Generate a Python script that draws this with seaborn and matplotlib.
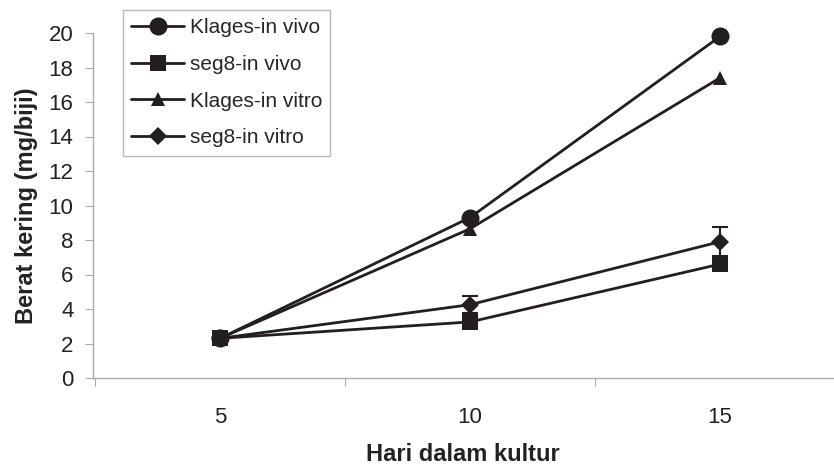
import matplotlib
matplotlib.use("Agg")
import matplotlib.pyplot as plt
import seaborn as sns
import pandas as pd
import numpy as np

days = ["5", "10", "15"]
klages_vivo = [2.3, 9.3, 19.8]
seg8_vivo = [2.3, 3.25, 6.6]
klages_vitro = [2.3, 8.65, 17.4]
seg8_vitro = [2.3, 4.25, 7.9]
seg8_vitro_err = [0.0, 0.5, 0.85]
series_names = ["Klages-in vivo", "seg8-in vivo", "Klages-in vitro", "seg8-in vitro"]

sns.set_theme(style="white")
plt.rcParams["font.family"] = ["Liberation Sans", "DejaVu Sans"]

rows = []
for name, vals in zip(series_names, [klages_vivo, seg8_vivo, klages_vitro, seg8_vitro]):
    for d, v in zip(days, vals):
        rows.append({"Hari": d, "Berat": v, "Seri": name})
df = pd.DataFrame(rows)

ink = "#231f20"
fig = plt.figure(figsize=(8.34, 4.70), dpi=100)
ax = fig.add_axes([93/834, 1-378/470, (833-93)/834, (378-33)/470])

markers = {"Klages-in vivo": "o", "seg8-in vivo": "s", "Klages-in vitro": "^", "seg8-in vitro": "D"}
sizes = {"Klages-in vivo": 13, "seg8-in vivo": 11.5, "Klages-in vitro": 9.5, "seg8-in vitro": 9.5}

for name in series_names:
    sub = df[df["Seri"] == name]
    sns.lineplot(data=sub, x="Hari", y="Berat", color=ink, marker=markers[name],
                 markersize=sizes[name], linewidth=2.0, markeredgewidth=0,
                 ax=ax, label=name, sort=False, clip_on=False, zorder=3)

xpos = np.arange(len(days))
ax.errorbar(xpos, seg8_vitro, yerr=seg8_vitro_err, fmt="none", ecolor=ink,
            elinewidth=1.5, capsize=6, capthick=1.5, zorder=2)

ax.set_xlim(-0.508, 2.452)
ax.set_ylim(0, 20)
ax.set_yticks(range(0, 21, 2))
ax.set_xticks(xpos)
ax.set_xticklabels(days)
ax.set_xticks([-0.5, 0.5, 1.5], minor=True)
ax.tick_params(axis="x", which="major", length=0, labelsize=16, pad=21, colors="#222222")
ax.tick_params(axis="x", which="minor", length=6, width=0.8, color="#aaaaaa", bottom=True)
ax.tick_params(axis="y", which="major", length=6, width=0.8, color="#aaaaaa", labelsize=16,
               left=True, labelcolor="#222222", pad=8)

for s in ["top", "right"]:
    ax.spines[s].set_visible(False)
for s in ["left", "bottom"]:
    ax.spines[s].set_color("#aaaaaa")
    ax.spines[s].set_linewidth(1.0)

ax.set_xlabel("Hari dalam kultur", fontsize=17, fontweight="bold", color="#222222", labelpad=11)
ax.set_ylabel("Berat kering (mg/biji)", fontsize=17, fontweight="bold", color="#222222", labelpad=8)

handles, labels = ax.get_legend_handles_labels()
if ax.legend_:
    ax.legend_.remove()
leg = fig.legend(handles, labels, loc="upper left", bbox_to_anchor=(123/834, 1-10/470),
                 frameon=True, fancybox=False, edgecolor="#aaaaaa", fontsize=15,
                 handlelength=2.55, handletextpad=0.25, labelspacing=0.85,
                 borderpad=0.4, borderaxespad=0)
leg.get_frame().set_linewidth(1.0)

fig.savefig("out.png", dpi=100)
